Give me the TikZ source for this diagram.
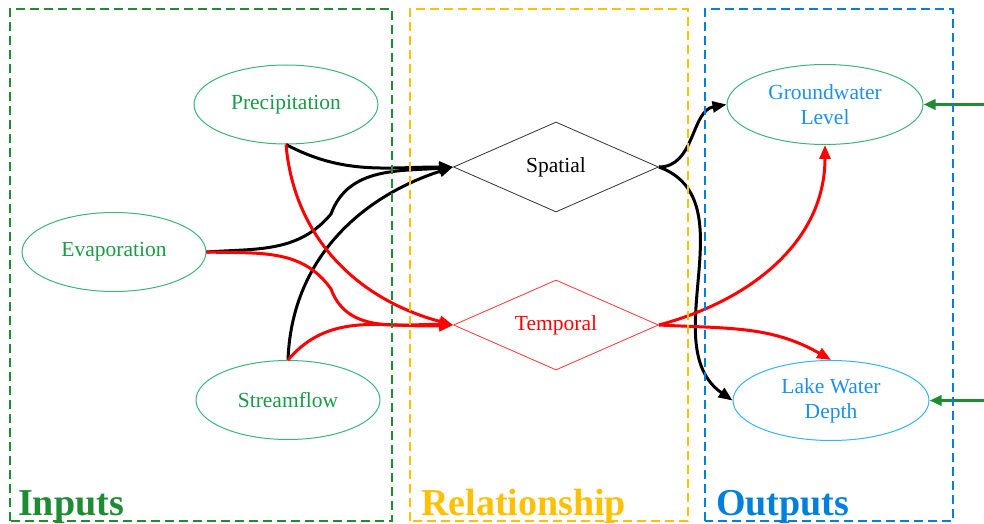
\documentclass[tikz,border=0pt]{standalone}
\usepackage{fontspec}
\setmainfont{Liberation Serif}
\usetikzlibrary{shapes.geometric,arrows.meta}

\definecolor{ingreen}{RGB}{30,140,50}
\definecolor{ellgreen}{RGB}{60,180,120}
\definecolor{txtgreen}{RGB}{25,155,70}
\definecolor{relyellow}{RGB}{255,192,0}
\definecolor{outblue}{RGB}{0,128,220}
\definecolor{txtblue}{RGB}{30,144,235}
\definecolor{lakeblue}{RGB}{50,180,240}

\begin{document}
\begin{tikzpicture}[x=1pt,y=1pt,
    invar/.style={ellipse,draw=ellgreen,line width=1pt,text=txtgreen,minimum width=184pt,minimum height=79pt,inner sep=0pt,font=\fontsize{21.5}{25}\selectfont},
    outvar/.style={ellipse,line width=1pt,text=txtblue,minimum width=196pt,minimum height=80pt,inner sep=0pt,align=center,font=\fontsize{21.5}{25}\selectfont},
    relnode/.style={diamond,line width=0.8pt,minimum width=205pt,minimum height=90pt,aspect=2.28,inner sep=0pt,font=\fontsize{21.5}{25}\selectfont},
    spat/.style={line width=3pt,-{Triangle[length=14pt,width=11pt]}},
    temp/.style={spat,red},
    feed/.style={ingreen,line width=3pt,-{Triangle[length=12pt,width=10pt]}},
    group/.style={dash pattern=on 9pt off 5pt,line width=2pt},
    grouplabel/.style={anchor=base west,inner sep=0pt,font=\fontsize{38}{40}\selectfont\bfseries}]
    \useasboundingbox (0,0) rectangle (984,523);

    % inputs, relationships and outputs
    \node[invar] (prec) at (286,418.5) {Precipitation};
    \node[invar] (evap) at (114,271) {Evaporation};
    \node[invar] (stream) at (288,123) {Streamflow};
    \node[relnode,draw=black!80] (spatial) at (556,356) {Spatial};
    \node[relnode,draw=red!80,text=red] (temporal) at (556,198) {Temporal};
    \node[outvar,draw=ellgreen] (gw) at (825,418.5) {Groundwater\\Level};
    \node[outvar,draw=lakeblue] (lake) at (831,122.5) {Lake Water\\Depth};

    \coordinate (ekinkA) at (331,309);
    \coordinate (ekinkB) at (331,234);
    \coordinate (gwsrc) at (984,418.5);
    \coordinate (lakesrc) at (984,122.5);

    % links into the relationships
    \draw[spat] (prec.south) to[out=-28,in=180] (spatial.west);
    \draw[spat] (evap.east) to[out=4,in=-130] (ekinkA) to[out=70,in=185] (spatial.west);
    \draw[spat] (stream.north) to[out=88,in=198] (spatial.west);
    \draw[temp] (prec.south) to[out=-85,in=165] (temporal.west);
    \draw[temp] (evap.east) to[out=-2,in=125] (ekinkB) to[out=-70,in=178] (temporal.west);
    \draw[temp] (stream.north) to[out=50,in=183] (temporal.west);

    % links out to the outputs
    \draw[spat] (spatial.east) to[out=0,in=190] (gw.west);
    \draw[spat] (spatial.east) to[out=-20,in=145] (lake.west);
    \draw[temp] (temporal.east) to[out=15,in=-90] (gw.south);
    \draw[temp] (temporal.east) to[out=-3,in=150] (lake.north);
    \draw[feed] (gwsrc) -- (gw.east);
    \draw[feed] (lakesrc) -- (lake.east);

    % group boxes
    \draw[group,ingreen] (10,2) rectangle (392,514);
    \draw[group,relyellow] (410,2) rectangle (688,514);
    \draw[group,outblue] (705,2) rectangle (953,514);
    \node[grouplabel,text=ingreen] (intitle) at (18,8) {Inputs};
    \node[grouplabel,text=relyellow] (reltitle) at (421,8) {Relationship};
    \node[grouplabel,text=outblue] (outtitle) at (716,8) {Outputs};
\end{tikzpicture}
\end{document}
